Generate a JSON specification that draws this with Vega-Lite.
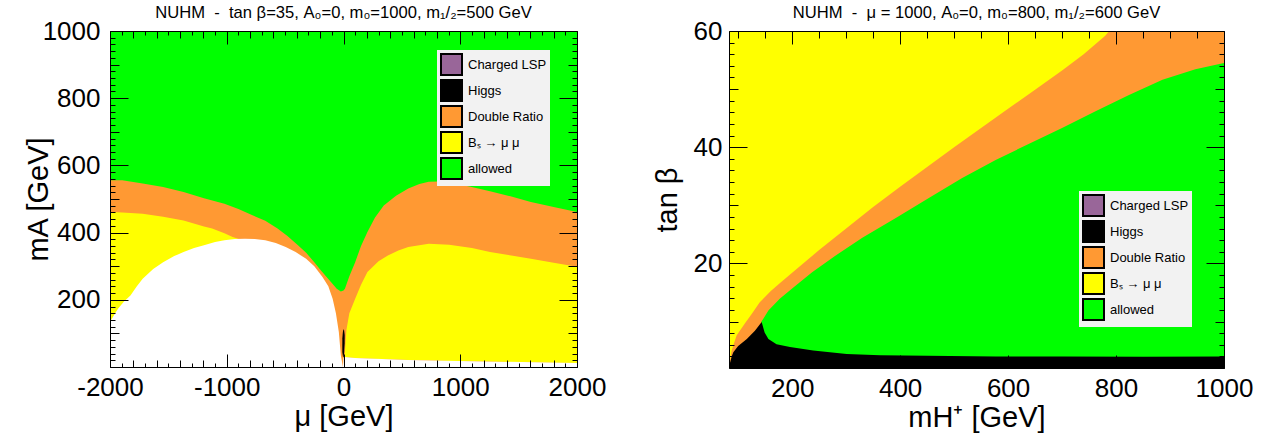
{
  "$schema": "https://vega.github.io/schema/vega-lite/v6.json",
  "padding": {"left": 24, "top": 5, "right": 5, "bottom": 2},
  "background": "white",
  "config": {
    "view": {"stroke": null},
    "font": "Liberation Sans",
    "axis": {"domain": true, "domainColor": "#000", "domainWidth": 1, "grid": false, "labelFont": "Liberation Sans", "labelFontSize": 26, "labelColor": "#000", "titleFont": "Liberation Sans", "titleFontSize": 29, "titleFontWeight": "normal", "titleColor": "#000", "tickColor": "#000", "tickWidth": 1, "labelOverlap": false, "labelFlush": false},
    "title": {"font": "Liberation Sans", "fontSize": 16.6, "fontWeight": "normal", "color": "#000", "anchor": "middle", "offset": -4},
    "legend": {"orient": "none", "title": null, "symbolType": "square", "symbolSize": 441, "symbolStrokeColor": "#000", "symbolStrokeWidth": 2, "symbolOpacity": 1, "labelFontSize": 13, "labelFont": "Liberation Sans", "labelColor": "#000", "fillColor": "#f2f2f2", "padding": 3, "rowPadding": -4.5, "labelOffset": 5, "labelLimit": 200}
  },
  "datasets": {
    "left": [
      {"layer": "g", "region": "allowed", "part": "g", "x": -2000, "top": 1000, "bottom": 0},
      {"layer": "g", "region": "allowed", "part": "g", "x": 2000, "top": 1000, "bottom": 0},
      {"layer": "o", "region": "Double Ratio", "part": "o", "x": -2000, "top": 556, "bottom": 0},
      {"layer": "o", "region": "Double Ratio", "part": "o", "x": -1895, "top": 556, "bottom": 0},
      {"layer": "o", "region": "Double Ratio", "part": "o", "x": -1720, "top": 546, "bottom": 0},
      {"layer": "o", "region": "Double Ratio", "part": "o", "x": -1545, "top": 536, "bottom": 0},
      {"layer": "o", "region": "Double Ratio", "part": "o", "x": -1370, "top": 521, "bottom": 0},
      {"layer": "o", "region": "Double Ratio", "part": "o", "x": -1195, "top": 502, "bottom": 0},
      {"layer": "o", "region": "Double Ratio", "part": "o", "x": -1020, "top": 486, "bottom": 0},
      {"layer": "o", "region": "Double Ratio", "part": "o", "x": -900, "top": 470, "bottom": 0},
      {"layer": "o", "region": "Double Ratio", "part": "o", "x": -775, "top": 451, "bottom": 0},
      {"layer": "o", "region": "Double Ratio", "part": "o", "x": -670, "top": 435, "bottom": 0},
      {"layer": "o", "region": "Double Ratio", "part": "o", "x": -565, "top": 412, "bottom": 0},
      {"layer": "o", "region": "Double Ratio", "part": "o", "x": -480, "top": 390, "bottom": 0},
      {"layer": "o", "region": "Double Ratio", "part": "o", "x": -390, "top": 362, "bottom": 0},
      {"layer": "o", "region": "Double Ratio", "part": "o", "x": -320, "top": 340, "bottom": 0},
      {"layer": "o", "region": "Double Ratio", "part": "o", "x": -250, "top": 312, "bottom": 0},
      {"layer": "o", "region": "Double Ratio", "part": "o", "x": -200, "top": 290, "bottom": 0},
      {"layer": "o", "region": "Double Ratio", "part": "o", "x": -145, "top": 268, "bottom": 0},
      {"layer": "o", "region": "Double Ratio", "part": "o", "x": -100, "top": 250, "bottom": 0},
      {"layer": "o", "region": "Double Ratio", "part": "o", "x": -58, "top": 233, "bottom": 0},
      {"layer": "o", "region": "Double Ratio", "part": "o", "x": -23, "top": 225, "bottom": 0},
      {"layer": "o", "region": "Double Ratio", "part": "o", "x": 0, "top": 228, "bottom": 0},
      {"layer": "o", "region": "Double Ratio", "part": "o", "x": 12, "top": 233, "bottom": 0},
      {"layer": "o", "region": "Double Ratio", "part": "o", "x": 50, "top": 270, "bottom": 0},
      {"layer": "o", "region": "Double Ratio", "part": "o", "x": 100, "top": 312, "bottom": 0},
      {"layer": "o", "region": "Double Ratio", "part": "o", "x": 150, "top": 360, "bottom": 0},
      {"layer": "o", "region": "Double Ratio", "part": "o", "x": 205, "top": 402, "bottom": 0},
      {"layer": "o", "region": "Double Ratio", "part": "o", "x": 270, "top": 445, "bottom": 0},
      {"layer": "o", "region": "Double Ratio", "part": "o", "x": 345, "top": 481, "bottom": 0},
      {"layer": "o", "region": "Double Ratio", "part": "o", "x": 450, "top": 510, "bottom": 0},
      {"layer": "o", "region": "Double Ratio", "part": "o", "x": 555, "top": 531, "bottom": 0},
      {"layer": "o", "region": "Double Ratio", "part": "o", "x": 650, "top": 545, "bottom": 0},
      {"layer": "o", "region": "Double Ratio", "part": "o", "x": 730, "top": 551, "bottom": 0},
      {"layer": "o", "region": "Double Ratio", "part": "o", "x": 820, "top": 552, "bottom": 0},
      {"layer": "o", "region": "Double Ratio", "part": "o", "x": 905, "top": 548, "bottom": 0},
      {"layer": "o", "region": "Double Ratio", "part": "o", "x": 1080, "top": 537, "bottom": 0},
      {"layer": "o", "region": "Double Ratio", "part": "o", "x": 1255, "top": 523, "bottom": 0},
      {"layer": "o", "region": "Double Ratio", "part": "o", "x": 1430, "top": 508, "bottom": 0},
      {"layer": "o", "region": "Double Ratio", "part": "o", "x": 1605, "top": 491, "bottom": 0},
      {"layer": "o", "region": "Double Ratio", "part": "o", "x": 1800, "top": 476, "bottom": 0},
      {"layer": "o", "region": "Double Ratio", "part": "o", "x": 2000, "top": 461, "bottom": 0},
      {"layer": "y", "region": "Bₛ → μ μ", "part": "yL", "x": -2000, "top": 461, "bottom": 0},
      {"layer": "y", "region": "Bₛ → μ μ", "part": "yL", "x": -1895, "top": 460, "bottom": 0},
      {"layer": "y", "region": "Bₛ → μ μ", "part": "yL", "x": -1720, "top": 456, "bottom": 0},
      {"layer": "y", "region": "Bₛ → μ μ", "part": "yL", "x": -1545, "top": 447, "bottom": 0},
      {"layer": "y", "region": "Bₛ → μ μ", "part": "yL", "x": -1370, "top": 436, "bottom": 0},
      {"layer": "y", "region": "Bₛ → μ μ", "part": "yL", "x": -1195, "top": 418, "bottom": 0},
      {"layer": "y", "region": "Bₛ → μ μ", "part": "yL", "x": -1125, "top": 412, "bottom": 0},
      {"layer": "y", "region": "Bₛ → μ μ", "part": "yL", "x": -1020, "top": 398, "bottom": 0},
      {"layer": "y", "region": "Bₛ → μ μ", "part": "yL", "x": -950, "top": 387, "bottom": 0},
      {"layer": "y", "region": "Bₛ → μ μ", "part": "yL", "x": -850, "top": 376, "bottom": 0},
      {"layer": "y", "region": "Bₛ → μ μ", "part": "yR", "x": 10, "top": 35, "bottom": 30},
      {"layer": "y", "region": "Bₛ → μ μ", "part": "yR", "x": 18, "top": 75, "bottom": 30},
      {"layer": "y", "region": "Bₛ → μ μ", "part": "yR", "x": 25, "top": 110, "bottom": 29},
      {"layer": "y", "region": "Bₛ → μ μ", "part": "yR", "x": 50, "top": 160, "bottom": 28},
      {"layer": "y", "region": "Bₛ → μ μ", "part": "yR", "x": 100, "top": 203, "bottom": 27},
      {"layer": "y", "region": "Bₛ → μ μ", "part": "yR", "x": 150, "top": 245, "bottom": 26},
      {"layer": "y", "region": "Bₛ → μ μ", "part": "yR", "x": 205, "top": 283, "bottom": 25},
      {"layer": "y", "region": "Bₛ → μ μ", "part": "yR", "x": 300, "top": 315, "bottom": 24},
      {"layer": "y", "region": "Bₛ → μ μ", "part": "yR", "x": 380, "top": 332, "bottom": 23},
      {"layer": "y", "region": "Bₛ → μ μ", "part": "yR", "x": 470, "top": 347, "bottom": 22},
      {"layer": "y", "region": "Bₛ → μ μ", "part": "yR", "x": 555, "top": 357, "bottom": 21},
      {"layer": "y", "region": "Bₛ → μ μ", "part": "yR", "x": 730, "top": 367, "bottom": 20},
      {"layer": "y", "region": "Bₛ → μ μ", "part": "yR", "x": 905, "top": 364, "bottom": 18},
      {"layer": "y", "region": "Bₛ → μ μ", "part": "yR", "x": 1100, "top": 354, "bottom": 17},
      {"layer": "y", "region": "Bₛ → μ μ", "part": "yR", "x": 1255, "top": 342, "bottom": 16},
      {"layer": "y", "region": "Bₛ → μ μ", "part": "yR", "x": 1450, "top": 331, "bottom": 15},
      {"layer": "y", "region": "Bₛ → μ μ", "part": "yR", "x": 1605, "top": 322, "bottom": 14},
      {"layer": "y", "region": "Bₛ → μ μ", "part": "yR", "x": 1800, "top": 310, "bottom": 13},
      {"layer": "y", "region": "Bₛ → μ μ", "part": "yR", "x": 2000, "top": 298, "bottom": 12},
      {"layer": "w", "region": "none", "part": "wL", "x": -2000, "top": 134, "bottom": 0},
      {"layer": "w", "region": "none", "part": "wL", "x": -1965, "top": 155, "bottom": 0},
      {"layer": "w", "region": "none", "part": "wL", "x": -1930, "top": 174, "bottom": 0},
      {"layer": "w", "region": "none", "part": "wL", "x": -1880, "top": 195, "bottom": 0},
      {"layer": "w", "region": "none", "part": "wL", "x": -1825, "top": 213, "bottom": 0},
      {"layer": "w", "region": "none", "part": "wL", "x": -1770, "top": 240, "bottom": 0},
      {"layer": "w", "region": "none", "part": "wL", "x": -1720, "top": 263, "bottom": 0},
      {"layer": "w", "region": "none", "part": "wL", "x": -1630, "top": 292, "bottom": 0},
      {"layer": "w", "region": "none", "part": "wL", "x": -1545, "top": 312, "bottom": 0},
      {"layer": "w", "region": "none", "part": "wL", "x": -1450, "top": 330, "bottom": 0},
      {"layer": "w", "region": "none", "part": "wL", "x": -1370, "top": 342, "bottom": 0},
      {"layer": "w", "region": "none", "part": "wL", "x": -1280, "top": 354, "bottom": 0},
      {"layer": "w", "region": "none", "part": "wL", "x": -1195, "top": 362, "bottom": 0},
      {"layer": "w", "region": "none", "part": "wL", "x": -1100, "top": 372, "bottom": 0},
      {"layer": "w", "region": "none", "part": "wL", "x": -1020, "top": 377, "bottom": 0},
      {"layer": "w", "region": "none", "part": "wL", "x": -930, "top": 381, "bottom": 0},
      {"layer": "w", "region": "none", "part": "wL", "x": -845, "top": 382, "bottom": 0},
      {"layer": "w", "region": "none", "part": "wL", "x": -760, "top": 381, "bottom": 0},
      {"layer": "w", "region": "none", "part": "wL", "x": -670, "top": 377, "bottom": 0},
      {"layer": "w", "region": "none", "part": "wL", "x": -580, "top": 369, "bottom": 0},
      {"layer": "w", "region": "none", "part": "wL", "x": -495, "top": 357, "bottom": 0},
      {"layer": "w", "region": "none", "part": "wL", "x": -410, "top": 342, "bottom": 0},
      {"layer": "w", "region": "none", "part": "wL", "x": -320, "top": 322, "bottom": 0},
      {"layer": "w", "region": "none", "part": "wL", "x": -250, "top": 300, "bottom": 0},
      {"layer": "w", "region": "none", "part": "wL", "x": -180, "top": 268, "bottom": 0},
      {"layer": "w", "region": "none", "part": "wL", "x": -130, "top": 240, "bottom": 0},
      {"layer": "w", "region": "none", "part": "wL", "x": -93, "top": 203, "bottom": 0},
      {"layer": "w", "region": "none", "part": "wL", "x": -65, "top": 160, "bottom": 0},
      {"layer": "w", "region": "none", "part": "wL", "x": -40, "top": 104, "bottom": 0},
      {"layer": "w", "region": "none", "part": "wL", "x": -23, "top": 35, "bottom": 0},
      {"layer": "w", "region": "none", "part": "wL", "x": -5, "top": 0, "bottom": 0},
      {"layer": "w", "region": "none", "part": "wR", "x": -5, "top": 0, "bottom": 0},
      {"layer": "w", "region": "none", "part": "wR", "x": 0, "top": 28, "bottom": 0},
      {"layer": "w", "region": "none", "part": "wR", "x": 10, "top": 30, "bottom": 0},
      {"layer": "w", "region": "none", "part": "wR", "x": 100, "top": 27, "bottom": 0},
      {"layer": "w", "region": "none", "part": "wR", "x": 555, "top": 21, "bottom": 0},
      {"layer": "w", "region": "none", "part": "wR", "x": 1100, "top": 17, "bottom": 0},
      {"layer": "w", "region": "none", "part": "wR", "x": 2000, "top": 12, "bottom": 0},
      {"layer": "h", "region": "Higgs", "part": "h", "x": -10, "top": 85, "bottom": 45},
      {"layer": "h", "region": "Higgs", "part": "h", "x": -5, "top": 105, "bottom": 32},
      {"layer": "h", "region": "Higgs", "part": "h", "x": 0, "top": 112, "bottom": 28},
      {"layer": "h", "region": "Higgs", "part": "h", "x": 5, "top": 110, "bottom": 40},
      {"layer": "h", "region": "Higgs", "part": "h", "x": 10, "top": 95, "bottom": 70}
    ],
    "right": [
      {"layer": "y", "region": "Bₛ → μ μ", "part": "y", "x": 83, "top": 60, "bottom": 2},
      {"layer": "y", "region": "Bₛ → μ μ", "part": "y", "x": 1000, "top": 60, "bottom": 2},
      {"layer": "o", "region": "Double Ratio", "part": "o", "x": 83, "top": 2.3, "bottom": 2},
      {"layer": "o", "region": "Double Ratio", "part": "o", "x": 88, "top": 5.0, "bottom": 2},
      {"layer": "o", "region": "Double Ratio", "part": "o", "x": 97, "top": 7.6, "bottom": 2},
      {"layer": "o", "region": "Double Ratio", "part": "o", "x": 112, "top": 9.6, "bottom": 2},
      {"layer": "o", "region": "Double Ratio", "part": "o", "x": 125, "top": 11.3, "bottom": 2},
      {"layer": "o", "region": "Double Ratio", "part": "o", "x": 140, "top": 13.3, "bottom": 2},
      {"layer": "o", "region": "Double Ratio", "part": "o", "x": 160, "top": 15.2, "bottom": 2},
      {"layer": "o", "region": "Double Ratio", "part": "o", "x": 177, "top": 16.6, "bottom": 2},
      {"layer": "o", "region": "Double Ratio", "part": "o", "x": 200, "top": 18.4, "bottom": 2},
      {"layer": "o", "region": "Double Ratio", "part": "o", "x": 250, "top": 22.3, "bottom": 2},
      {"layer": "o", "region": "Double Ratio", "part": "o", "x": 300, "top": 26.0, "bottom": 2},
      {"layer": "o", "region": "Double Ratio", "part": "o", "x": 350, "top": 29.7, "bottom": 2},
      {"layer": "o", "region": "Double Ratio", "part": "o", "x": 400, "top": 33.2, "bottom": 2},
      {"layer": "o", "region": "Double Ratio", "part": "o", "x": 450, "top": 36.6, "bottom": 2},
      {"layer": "o", "region": "Double Ratio", "part": "o", "x": 500, "top": 40.0, "bottom": 2},
      {"layer": "o", "region": "Double Ratio", "part": "o", "x": 550, "top": 43.3, "bottom": 2},
      {"layer": "o", "region": "Double Ratio", "part": "o", "x": 600, "top": 46.6, "bottom": 2},
      {"layer": "o", "region": "Double Ratio", "part": "o", "x": 650, "top": 49.9, "bottom": 2},
      {"layer": "o", "region": "Double Ratio", "part": "o", "x": 700, "top": 53.2, "bottom": 2},
      {"layer": "o", "region": "Double Ratio", "part": "o", "x": 740, "top": 56.0, "bottom": 2},
      {"layer": "o", "region": "Double Ratio", "part": "o", "x": 780, "top": 59.2, "bottom": 2},
      {"layer": "o", "region": "Double Ratio", "part": "o", "x": 792, "top": 60.5, "bottom": 2},
      {"layer": "o", "region": "Double Ratio", "part": "o", "x": 1000, "top": 60.5, "bottom": 2},
      {"layer": "g", "region": "allowed", "part": "g", "x": 143, "top": 10.0, "bottom": 2},
      {"layer": "g", "region": "allowed", "part": "g", "x": 146, "top": 10.4, "bottom": 2},
      {"layer": "g", "region": "allowed", "part": "g", "x": 156, "top": 11.9, "bottom": 2},
      {"layer": "g", "region": "allowed", "part": "g", "x": 177, "top": 13.9, "bottom": 2},
      {"layer": "g", "region": "allowed", "part": "g", "x": 200, "top": 15.7, "bottom": 2},
      {"layer": "g", "region": "allowed", "part": "g", "x": 237, "top": 18.5, "bottom": 2},
      {"layer": "g", "region": "allowed", "part": "g", "x": 280, "top": 21.3, "bottom": 2},
      {"layer": "g", "region": "allowed", "part": "g", "x": 330, "top": 24.4, "bottom": 2},
      {"layer": "g", "region": "allowed", "part": "g", "x": 392, "top": 27.8, "bottom": 2},
      {"layer": "g", "region": "allowed", "part": "g", "x": 454, "top": 31.3, "bottom": 2},
      {"layer": "g", "region": "allowed", "part": "g", "x": 515, "top": 34.7, "bottom": 2},
      {"layer": "g", "region": "allowed", "part": "g", "x": 577, "top": 37.8, "bottom": 2},
      {"layer": "g", "region": "allowed", "part": "g", "x": 639, "top": 40.6, "bottom": 2},
      {"layer": "g", "region": "allowed", "part": "g", "x": 700, "top": 43.3, "bottom": 2},
      {"layer": "g", "region": "allowed", "part": "g", "x": 762, "top": 46.2, "bottom": 2},
      {"layer": "g", "region": "allowed", "part": "g", "x": 824, "top": 49.0, "bottom": 2},
      {"layer": "g", "region": "allowed", "part": "g", "x": 886, "top": 51.6, "bottom": 2},
      {"layer": "g", "region": "allowed", "part": "g", "x": 947, "top": 53.4, "bottom": 2},
      {"layer": "g", "region": "allowed", "part": "g", "x": 1000, "top": 54.5, "bottom": 2},
      {"layer": "h", "region": "Higgs", "part": "h", "x": 83, "top": 2.2, "bottom": 2},
      {"layer": "h", "region": "Higgs", "part": "h", "x": 88, "top": 4.0, "bottom": 2},
      {"layer": "h", "region": "Higgs", "part": "h", "x": 91, "top": 4.7, "bottom": 2},
      {"layer": "h", "region": "Higgs", "part": "h", "x": 100, "top": 5.8, "bottom": 2},
      {"layer": "h", "region": "Higgs", "part": "h", "x": 116, "top": 7.0, "bottom": 2},
      {"layer": "h", "region": "Higgs", "part": "h", "x": 131, "top": 8.4, "bottom": 2},
      {"layer": "h", "region": "Higgs", "part": "h", "x": 143.5, "top": 9.9, "bottom": 2},
      {"layer": "h", "region": "Higgs", "part": "h", "x": 149, "top": 8.1, "bottom": 2},
      {"layer": "h", "region": "Higgs", "part": "h", "x": 156, "top": 7.0, "bottom": 2},
      {"layer": "h", "region": "Higgs", "part": "h", "x": 171, "top": 6.1, "bottom": 2},
      {"layer": "h", "region": "Higgs", "part": "h", "x": 196, "top": 5.6, "bottom": 2},
      {"layer": "h", "region": "Higgs", "part": "h", "x": 239, "top": 5.0, "bottom": 2},
      {"layer": "h", "region": "Higgs", "part": "h", "x": 301, "top": 4.4, "bottom": 2},
      {"layer": "h", "region": "Higgs", "part": "h", "x": 363, "top": 4.2, "bottom": 2},
      {"layer": "h", "region": "Higgs", "part": "h", "x": 450, "top": 4.1, "bottom": 2},
      {"layer": "h", "region": "Higgs", "part": "h", "x": 577, "top": 4.0, "bottom": 2},
      {"layer": "h", "region": "Higgs", "part": "h", "x": 700, "top": 4.0, "bottom": 2},
      {"layer": "h", "region": "Higgs", "part": "h", "x": 850, "top": 3.95, "bottom": 2},
      {"layer": "h", "region": "Higgs", "part": "h", "x": 1000, "top": 4.0, "bottom": 2}
    ]
  },
  "spacing": 152,
  "bounds": "flush",
  "resolve": {"scale": {"color": "independent"}},
  "hconcat": [
    {
      "title": "NUHM \u00a0-\u00a0 tan β=35, A₀=0, m₀=1000, m₁/₂=500 GeV",
      "width": 467,
      "height": 336,
      "data": {"name": "left"},
      "encoding": {
        "color": {"field": "region", "type": "nominal",
          "scale": {"domain": ["Charged LSP", "Higgs", "Double Ratio", "Bₛ → μ μ", "allowed", "none"], "range": ["#996699", "#000000", "#ff9933", "#ffff00", "#00ff00", "#ffffff"]},
          "legend": {"legendX": 327, "legendY": 19, "values": ["Charged LSP", "Higgs", "Double Ratio", "Bₛ → μ μ", "allowed"],
            "encode": {"symbols": {"update": {"stroke": {"value": "#000"}, "strokeWidth": {"value": 2}, "opacity": {"value": 1}}}}}},
        "detail": {"field": "part"}
      },
      "layer": [
        {
          "transform": [{"filter": "datum.layer === 'g'"}],
          "mark": {"type": "area", "clip": true},
          "encoding": {
            "x": {"field": "x", "type": "quantitative", "scale": {"domain": [-2000, 2000], "nice": false, "zero": false},
              "axis": {"orient": "bottom", "zindex": 2, "title": "μ [GeV]", "titlePadding": -7,
                "values": [-2000,-1900,-1800,-1700,-1600,-1500,-1400,-1300,-1200,-1100,-1000,-900,-800,-700,-600,-500,-400,-300,-200,-100,0,100,200,300,400,500,600,700,800,900,1000,1100,1200,1300,1400,1500,1600,1700,1800,1900,2000],
                "labelExpr": "datum.value % 1000 === 0 ? '' + datum.value : ''",
                "tickSize": {"condition": [{"test": "datum.value % 1000 === 0", "value": -13}, {"test": "datum.value % 200 === 0", "value": -7}], "value": -4},
                "labelPadding": 20}},
            "y": {"field": "top", "type": "quantitative", "scale": {"domain": [0, 1000], "nice": false, "zero": false},
              "axis": {"orient": "left", "zindex": 2, "title": "mA [GeV]", "titlePadding": -11,
                "values": [0,20,40,60,80,100,120,140,160,180,200,220,240,260,280,300,320,340,360,380,400,420,440,460,480,500,520,540,560,580,600,620,640,660,680,700,720,740,760,780,800,820,840,860,880,900,920,940,960,980,1000],
                "labelExpr": "datum.value % 200 === 0 && datum.value > 0 ? '' + datum.value : ''",
                "tickSize": {"condition": [{"test": "datum.value % 200 === 0", "value": -18}, {"test": "datum.value % 100 === 0", "value": -9}], "value": -5},
                "labelPadding": 28}},
            "y2": {"field": "bottom"}
          }
        },
        {
          "transform": [{"filter": "datum.layer === 'o'"}],
          "mark": {"type": "area", "clip": true},
          "encoding": {
            "x": {"field": "x", "type": "quantitative",
              "axis": {"orient": "top", "zindex": 2, "title": null, "labels": false,
                "values": [-2000,-1900,-1800,-1700,-1600,-1500,-1400,-1300,-1200,-1100,-1000,-900,-800,-700,-600,-500,-400,-300,-200,-100,0,100,200,300,400,500,600,700,800,900,1000,1100,1200,1300,1400,1500,1600,1700,1800,1900,2000],
                "tickSize": {"condition": [{"test": "datum.value % 1000 === 0", "value": -13}, {"test": "datum.value % 200 === 0", "value": -7}], "value": -4}}},
            "y": {"field": "top", "type": "quantitative",
              "axis": {"orient": "right", "zindex": 2, "title": null, "labels": false,
                "values": [0,20,40,60,80,100,120,140,160,180,200,220,240,260,280,300,320,340,360,380,400,420,440,460,480,500,520,540,560,580,600,620,640,660,680,700,720,740,760,780,800,820,840,860,880,900,920,940,960,980,1000],
                "tickSize": {"condition": [{"test": "datum.value % 200 === 0", "value": -18}, {"test": "datum.value % 100 === 0", "value": -9}], "value": -5}}},
            "y2": {"field": "bottom"}
          }
        },
        {
          "transform": [{"filter": "datum.layer === 'y'"}],
          "mark": {"type": "area", "clip": true},
          "encoding": {
            "x": {"field": "x", "type": "quantitative", "axis": null},
            "y": {"field": "top", "type": "quantitative", "axis": null},
            "y2": {"field": "bottom"}
          }
        },
        {
          "transform": [{"filter": "datum.layer === 'w'"}],
          "mark": {"type": "area", "clip": true},
          "encoding": {
            "x": {"field": "x", "type": "quantitative", "axis": null},
            "y": {"field": "top", "type": "quantitative", "axis": null},
            "y2": {"field": "bottom"}
          }
        },
        {
          "transform": [{"filter": "datum.layer === 'h'"}],
          "mark": {"type": "area", "clip": true},
          "encoding": {
            "x": {"field": "x", "type": "quantitative", "axis": null},
            "y": {"field": "top", "type": "quantitative", "axis": null},
            "y2": {"field": "bottom"}
          }
        }
      ]
    },
    {
      "title": "NUHM \u00a0-\u00a0 μ = 1000, A₀=0, m₀=800, m₁/₂=600 GeV",
      "width": 495,
      "height": 337,
      "data": {"name": "right"},
      "encoding": {
        "color": {"field": "region", "type": "nominal",
          "scale": {"domain": ["Charged LSP", "Higgs", "Double Ratio", "Bₛ → μ μ", "allowed", "none"], "range": ["#996699", "#000000", "#ff9933", "#ffff00", "#00ff00", "#ffffff"]},
          "legend": {"legendX": 350, "legendY": 160, "values": ["Charged LSP", "Higgs", "Double Ratio", "Bₛ → μ μ", "allowed"],
            "encode": {"symbols": {"update": {"stroke": {"value": "#000"}, "strokeWidth": {"value": 2}, "opacity": {"value": 1}}}}}},
        "detail": {"field": "part"}
      },
      "layer": [
        {
          "transform": [{"filter": "datum.layer === 'y'"}],
          "mark": {"type": "area", "clip": true},
          "encoding": {
            "x": {"field": "x", "type": "quantitative", "scale": {"domain": [83, 1000], "nice": false, "zero": false},
              "axis": {"orient": "bottom", "zindex": 2, "title": "mH⁺ [GeV]", "titlePadding": -4,
                "values": [100,150,200,250,300,350,400,450,500,550,600,650,700,750,800,850,900,950,1000],
                "labelExpr": "datum.value % 200 === 0 ? '' + datum.value : ''",
                "tickSize": {"condition": [{"test": "datum.value % 200 === 0", "value": -13}], "value": -7},
                "labelPadding": 20}},
            "y": {"field": "top", "type": "quantitative", "scale": {"domain": [2, 60], "nice": false, "zero": false},
              "axis": {"orient": "left", "zindex": 2, "title": "tan β", "titlePadding": 11,
                "values": [2,4,6,8,10,12,14,16,18,20,22,24,26,28,30,32,34,36,38,40,42,44,46,48,50,52,54,56,58,60],
                "labelExpr": "datum.value % 20 === 0 ? '' + datum.value : ''",
                "tickSize": {"condition": [{"test": "datum.value % 20 === 0", "value": -18}, {"test": "datum.value % 10 === 0", "value": -9}], "value": -5},
                "labelPadding": 25}},
            "y2": {"field": "bottom"}
          }
        },
        {
          "transform": [{"filter": "datum.layer === 'o'"}],
          "mark": {"type": "area", "clip": true},
          "encoding": {
            "x": {"field": "x", "type": "quantitative",
              "axis": {"orient": "top", "zindex": 2, "title": null, "labels": false,
                "values": [100,150,200,250,300,350,400,450,500,550,600,650,700,750,800,850,900,950,1000],
                "tickSize": {"condition": [{"test": "datum.value % 200 === 0", "value": -13}], "value": -7}}},
            "y": {"field": "top", "type": "quantitative",
              "axis": {"orient": "right", "zindex": 2, "title": null, "labels": false,
                "values": [2,4,6,8,10,12,14,16,18,20,22,24,26,28,30,32,34,36,38,40,42,44,46,48,50,52,54,56,58,60],
                "tickSize": {"condition": [{"test": "datum.value % 20 === 0", "value": -18}, {"test": "datum.value % 10 === 0", "value": -9}], "value": -5}}},
            "y2": {"field": "bottom"}
          }
        },
        {
          "transform": [{"filter": "datum.layer === 'g'"}],
          "mark": {"type": "area", "clip": true},
          "encoding": {
            "x": {"field": "x", "type": "quantitative", "axis": null},
            "y": {"field": "top", "type": "quantitative", "axis": null},
            "y2": {"field": "bottom"}
          }
        },
        {
          "transform": [{"filter": "datum.layer === 'h'"}],
          "mark": {"type": "area", "clip": true},
          "encoding": {
            "x": {"field": "x", "type": "quantitative", "axis": null},
            "y": {"field": "top", "type": "quantitative", "axis": null},
            "y2": {"field": "bottom"}
          }
        }
      ]
    }
  ]
}
